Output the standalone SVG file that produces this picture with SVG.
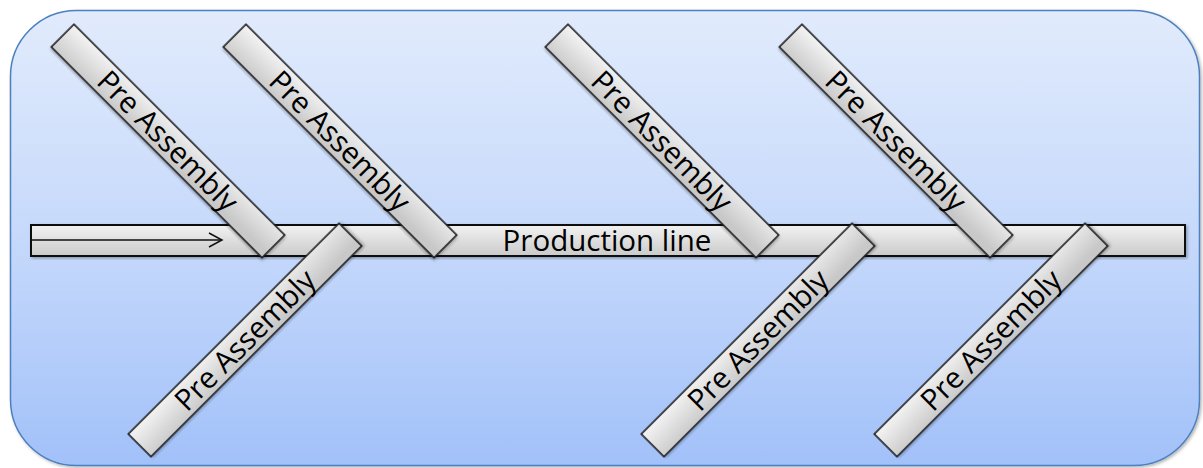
<svg xmlns="http://www.w3.org/2000/svg" width="1203" height="468" viewBox="0 0 1203 468">
  <defs>
    <linearGradient id="panelFill" x1="0" y1="0" x2="0" y2="1">
      <stop offset="0" stop-color="#e1ebfc"/>
      <stop offset="0.5" stop-color="#c6d9fb"/>
      <stop offset="1" stop-color="#a2c1f9"/>
    </linearGradient>
    <linearGradient id="barFill" x1="0" y1="0" x2="0.35" y2="1">
      <stop offset="0" stop-color="#f4f4f4"/>
      <stop offset="1" stop-color="#c8c8c8"/>
    </linearGradient>
    <linearGradient id="lineFill" x1="0" y1="0" x2="0" y2="1">
      <stop offset="0" stop-color="#f2f2f2"/>
      <stop offset="1" stop-color="#cacaca"/>
    </linearGradient>
    <filter id="shadow" x="-10%" y="-10%" width="120%" height="120%">
      <feDropShadow dx="1.5" dy="1.5" stdDeviation="1.5" flood-color="#000" flood-opacity="0.3"/>
    </filter>
    <style>
      .panel { fill: url(#panelFill); stroke: #4d80bf; stroke-width: 1.5; }
      .bar { fill: url(#barFill); stroke: #111; stroke-width: 1.5; filter: url(#shadow); }
      .line { fill: url(#lineFill); stroke: #111; stroke-width: 2; filter: url(#shadow); }
      .label { font-family: "Open Sans", "Liberation Sans", sans-serif; font-size: 29.5px; fill: #000; text-anchor: middle; }
      .flow { fill: none; stroke: #111; stroke-width: 1.5; }
    </style>
  </defs>

  <!-- background panel -->
  <rect class="panel" x="10.5" y="10.5" width="1189" height="455" rx="66" ry="66" filter="url(#shadow)"/>

  <!-- production line spine -->
  <g id="production-line">
    <rect class="line" x="31" y="225" width="1154" height="31"/>
    <text class="label" x="607" y="251">Production line</text>
  </g>

  <!-- flow direction arrow -->
  <g id="connectors">
    <line class="flow" x1="31" y1="240" x2="221" y2="240"/>
    <polyline class="flow" points="209,233 222,240 209,247"/>
  </g>

  <!-- upper branches -->
  <g id="pre-assembly-1" transform="translate(168,141) rotate(45)">
    <rect class="bar" x="-149" y="-16" width="298" height="32"/>
    <text class="label" x="0" y="10.5">Pre Assembly</text>
  </g>
  <g id="pre-assembly-2" transform="translate(340,141) rotate(45)">
    <rect class="bar" x="-149" y="-16" width="298" height="32"/>
    <text class="label" x="0" y="10.5">Pre Assembly</text>
  </g>
  <g id="pre-assembly-3" transform="translate(662,141) rotate(45)">
    <rect class="bar" x="-149" y="-16" width="298" height="32"/>
    <text class="label" x="0" y="10.5">Pre Assembly</text>
  </g>
  <g id="pre-assembly-4" transform="translate(896,141) rotate(45)">
    <rect class="bar" x="-149" y="-16" width="298" height="32"/>
    <text class="label" x="0" y="10.5">Pre Assembly</text>
  </g>

  <!-- lower branches -->
  <g id="pre-assembly-5" transform="translate(245,340) rotate(-45)">
    <rect class="bar" x="-149" y="-16" width="298" height="32"/>
    <text class="label" x="0" y="10.5">Pre Assembly</text>
  </g>
  <g id="pre-assembly-6" transform="translate(758,340) rotate(-45)">
    <rect class="bar" x="-149" y="-16" width="298" height="32"/>
    <text class="label" x="0" y="10.5">Pre Assembly</text>
  </g>
  <g id="pre-assembly-7" transform="translate(991,340) rotate(-45)">
    <rect class="bar" x="-149" y="-16" width="298" height="32"/>
    <text class="label" x="0" y="10.5">Pre Assembly</text>
  </g>
</svg>
